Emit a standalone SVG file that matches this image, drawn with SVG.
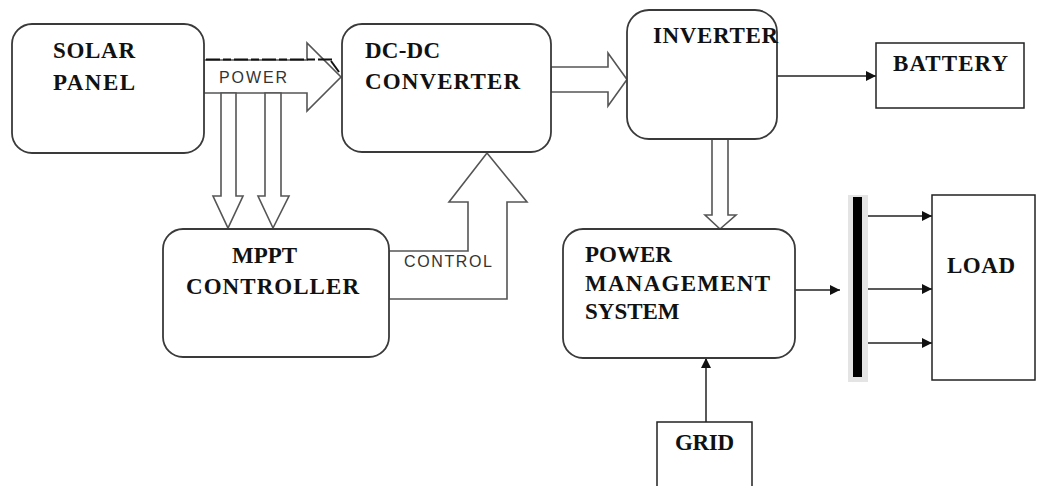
<svg xmlns="http://www.w3.org/2000/svg" width="1053" height="486" viewBox="0 0 1053 486">
<defs>
<style>
.box{fill:#fff;stroke:#3a3a3a;stroke-width:1.8}
.sq{fill:#fff;stroke:#222;stroke-width:1.5}
.blk{fill:#fff;stroke:#555;stroke-width:1.6;stroke-linejoin:miter}
.lbl{font-family:"Liberation Serif","Times New Roman",serif;font-weight:bold;font-size:23px;fill:#111}
.sm{font-family:"Liberation Sans",Arial,sans-serif;font-size:16px;fill:#333}
.ln{fill:none;stroke:#222;stroke-width:1.5}
</style>
<marker id="ah" viewBox="0 0 10 10" refX="10" refY="5" markerWidth="10" markerHeight="10" markerUnits="userSpaceOnUse" orient="auto">
<path d="M0,0 L10,5 L0,10 Z" fill="#111"/>
</marker>
</defs>

<g id="connectors">
<!-- power arrow -->
<polygon class="blk" points="204,60 307,60 307,43 341,77 307,111 307,93 204,93"/>
<line x1="206" y1="59.5" x2="335" y2="59.5" stroke="#111" stroke-width="2.2" stroke-dasharray="14,3,8,3"/>
<line x1="331" y1="61" x2="339" y2="72" stroke="#111" stroke-width="2"/>
<text class="sm" x="219" y="83" textLength="68" font-size="17">POWER</text>
<!-- down arrows to MPPT -->
<polygon class="blk" points="221,93 221,196 213,196 228,228 243,196 236,196 236,93"/>
<polygon class="blk" points="265,93 265,196 258,196 273,228 289,196 281,196 281,93"/>
<!-- dc-dc to inverter -->
<polygon class="blk" points="551,67 608,67 608,53 627,79.5 608,106 608,92 551,92"/>
<!-- inverter to pms -->
<polygon class="blk" points="712,139 712,215 705,215 720,229 736,215 728,215 728,139"/>
<!-- control arrow -->
<polygon class="blk" points="389,251 468,251 468,202 449,202 487,153 527,202 507,202 507,299 389,299"/>
<text class="sm" x="404" y="267" textLength="88">CONTROL</text>
<!-- inverter to battery -->
<line class="ln" x1="777" y1="76" x2="876" y2="76" marker-end="url(#ah)"/>
<!-- pms to bus -->
<line class="ln" x1="795" y1="290" x2="840" y2="290" marker-end="url(#ah)"/>
<!-- bus to load -->
<line class="ln" x1="863" y1="216" x2="932" y2="216" marker-end="url(#ah)"/>
<line class="ln" x1="863" y1="289" x2="932" y2="289" marker-end="url(#ah)"/>
<line class="ln" x1="863" y1="343" x2="932" y2="343" marker-end="url(#ah)"/>
<!-- grid to pms -->
<line class="ln" x1="706" y1="422" x2="706" y2="358" marker-end="url(#ah)"/>
</g>

<g id="solar-panel">
<rect class="box" x="12" y="24" width="192" height="129" rx="20"/>
<text class="lbl" x="53" y="58" textLength="82">SOLAR</text>
<text class="lbl" x="53" y="90" textLength="82">PANEL</text>
</g>

<g id="dc-dc-converter">
<rect class="box" x="342" y="24" width="209" height="128" rx="20"/>
<text class="lbl" x="365" y="58" textLength="75">DC-DC</text>
<text class="lbl" x="365" y="89" textLength="155">CONVERTER</text>
</g>

<g id="inverter">
<rect class="box" x="627" y="10" width="150" height="129" rx="22"/>
<text class="lbl" x="653" y="43" textLength="125">INVERTER</text>
</g>

<g id="battery">
<rect class="sq" x="876" y="43" width="148" height="65"/>
<text class="lbl" x="893" y="71" textLength="115">BATTERY</text>
</g>

<g id="mppt-controller">
<rect class="box" x="163" y="229" width="226" height="128" rx="20"/>
<text class="lbl" x="232" y="263" textLength="65">MPPT</text>
<text class="lbl" x="186" y="294" textLength="173">CONTROLLER</text>
</g>

<g id="power-management-system">
<rect class="box" x="563" y="229" width="232" height="129" rx="20"/>
<text class="lbl" x="585" y="262">POWER</text>
<text class="lbl" x="585" y="291" textLength="185">MANAGEMENT</text>
<text class="lbl" x="585" y="319">SYSTEM</text>
</g>

<g id="bus-bar">
<rect x="848" y="195" width="20" height="187" fill="#e4e4e4"/>
<rect x="853" y="197" width="9" height="180" fill="#000"/>
</g>

<g id="load">
<rect class="sq" x="932" y="195" width="103" height="185"/>
<text class="lbl" x="947" y="273" textLength="68">LOAD</text>
</g>

<g id="grid">
<path class="sq" d="M657,490 L657,422 L752,422 L752,490"/>
<text class="lbl" x="675" y="450" textLength="59">GRID</text>
</g>
</svg>
